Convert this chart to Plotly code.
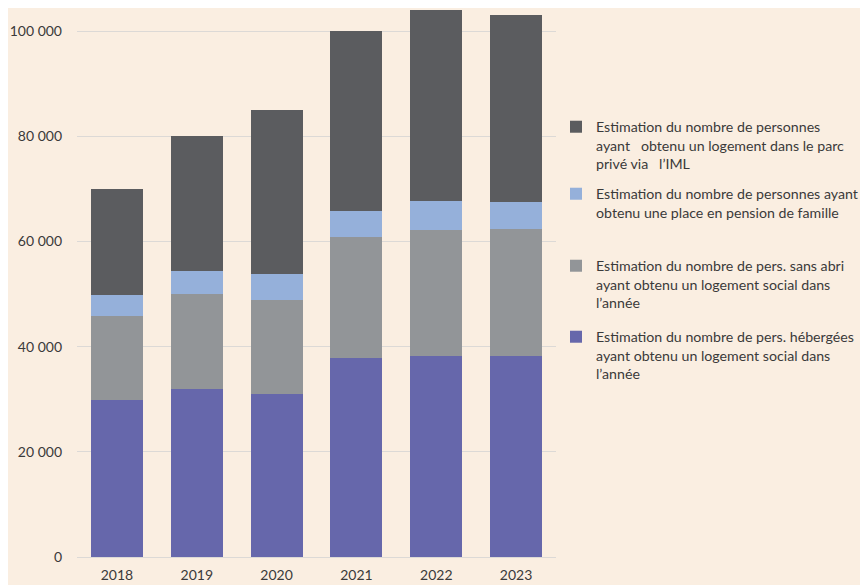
import plotly.graph_objects as go

years = ["2018", "2019", "2020", "2021", "2022", "2023"]
hebergees = [29800, 32000, 31000, 37800, 38300, 38300]
sans_abri = [16100, 18000, 17800, 23100, 23800, 24100]
pension = [4000, 4300, 5100, 4900, 5600, 5200]
iml = [20100, 25700, 31150, 34300, 36300, 35500]

names = [
    "Estimation du nombre de pers. hébergées<br>ayant obtenu un logement social dans<br>l’année",
    "Estimation du nombre de pers. sans abri<br>ayant obtenu un logement social dans<br>l’année",
    "Estimation du nombre de personnes ayant<br>obtenu une place en pension de famille",
    "Estimation du nombre de personnes<br>ayant   obtenu un logement dans le parc<br>privé via   l’IML",
]
colors = ["#6667AB", "#929598", "#95B0DA", "#5B5C5F"]
series = [hebergees, sans_abri, pension, iml]
legends = ["legend4", "legend3", "legend2", "legend"]

fig = go.Figure()
for s, n, c, lg in zip(series, names, colors, legends):
    fig.add_trace(go.Bar(x=years, y=s, name=n, marker=dict(color=c, line=dict(width=0)),
                         legend=lg))

W, H = 860, 577
font = dict(family="Lato, 'Open Sans', sans-serif", size=14, color="#3A3A3A")
leg_font = dict(family="Lato, 'Open Sans', sans-serif", size=14.2, color="#3A3A3A")
leg_common = dict(xref="container", yref="container", xanchor="left", yanchor="top",
                  bgcolor="rgba(0,0,0,0)", font=leg_font, valign="top",
                  itemclick=False, itemdoubleclick=False)
tops = {"legend": 103, "legend2": 170, "legend3": 242, "legend4": 313}
layout_legs = {}
for k, t in tops.items():
    layout_legs[k] = dict(x=548 / W, y=1 - t / H, **leg_common)

fig.update_layout(
    width=W, height=H,
    barmode="stack", bargap=0.35,
    paper_bgcolor="#FAEEE1", plot_bgcolor="#FAEEE1",
    margin=dict(l=69, r=311, t=0, b=28),
    separators=", ",
    font=font,
    showlegend=True,
    xaxis=dict(showgrid=False, showline=False, ticks="", tickfont=dict(size=14),
               ticklabelstandoff=8),
    yaxis=dict(range=[0, 104400], dtick=20000, tickformat=",d", showgrid=True,
               gridcolor="#DCD9D6", gridwidth=1, zeroline=True, zerolinecolor="#DCD9D6",
               zerolinewidth=1, ticks="", tickfont=dict(size=14), ticklabelstandoff=14),
    **layout_legs,
)

fig.write_html("out.html")
